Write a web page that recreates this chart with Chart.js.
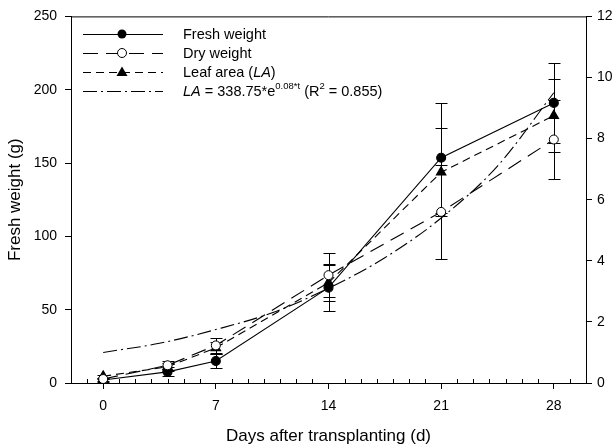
<!DOCTYPE html>
<html>
<head>
<meta charset="utf-8">
<script src="https://cdn.jsdelivr.net/npm/chart.js@4.4.1/dist/chart.umd.min.js"></script>
<style>
  html, body { margin: 0; padding: 0; background: #fff; }
  #wrap { width: 615px; height: 448px; }
</style>
</head>
<body>
<div id="wrap"><canvas id="growthChart"></canvas></div>
<script>
// days after transplanting
const days = [0, 4, 7, 14, 21, 28];
// fresh weight, g (left axis)
const freshWeight = [2, 7.6, 15, 65, 153.6, 191];
const freshErr = [1, 3, 5, 16, 37.5, 27];
// dry weight and leaf area, right axis units
const dryWeight = [0.13, 0.58, 1.23, 3.53, 5.6, 7.97];
const dryErr = [0.05, 0.14, 0.24, 0.72, 1.54, 1.3];
const leafArea = [0.22, 0.53, 1.15, 3.28, 6.9, 8.75];
const leafErr = [0.05, 0.14, 0.19, 0.58, 1.44, 1.2];
// fitted LA curve
const fitDays = [0, 3.5, 7, 10.5, 14, 17.5, 21, 24.5, 28];
const fitValues = [1.0, 1.3, 1.75, 2.3, 3.1, 4.1, 5.4, 7.1, 9.5];

const leftTicks = [0, 50, 100, 150, 200, 250];
const rightTicks = [0, 2, 4, 6, 8, 10, 12];
const xTicks = [0, 7, 14, 21, 28];

const FONT = "'Liberation Sans', Arial, sans-serif";

function pts(xs, ys) {
    return xs.map((x, i) => ({ x: x, y: ys[i] }));
}

const errorBars = {
    id: "errorBars",
    beforeDatasetsDraw(chart) {
        const c = chart.ctx;
        const xs = chart.scales.x;
        const sets = [
            [freshWeight, freshErr, chart.scales.y],
            [dryWeight, dryErr, chart.scales.y1],
            [leafArea, leafErr, chart.scales.y1],
        ];
        c.save();
        c.strokeStyle = "#000";
        c.lineWidth = 1;
        sets.forEach(([vals, errs, ys]) => {
            days.forEach((d, i) => {
                const px = Math.round(xs.getPixelForValue(d)) + 0.5;
                const top = Math.round(ys.getPixelForValue(vals[i] + errs[i])) + 0.5;
                const bot = Math.round(ys.getPixelForValue(vals[i] - errs[i])) + 0.5;
                c.beginPath();
                c.moveTo(px, top); c.lineTo(px, bot);
                c.moveTo(px - 6, top); c.lineTo(px + 6, top);
                c.moveTo(px - 6, bot); c.lineTo(px + 6, bot);
                c.stroke();
            });
        });
        c.restore();
    }
};

const frame = {
    id: "frame",
    afterDraw(chart) {
        const c = chart.ctx;
        const a = chart.chartArea;
        const xs = chart.scales.x;
        c.save();
        c.strokeStyle = "#000";
        c.lineWidth = 1;
        c.beginPath();
        c.moveTo(a.left, a.top + 0.5);
        c.lineTo(a.right, a.top + 0.5);
        // minor day ticks, pointing into the plot
        for (let d = -2; d <= 30; d++) {
            if (d % 7 === 0) continue;
            const px = Math.round(xs.getPixelForValue(d)) + 0.5;
            c.moveTo(px, a.bottom);
            c.lineTo(px, a.bottom - 4);
        }
        c.stroke();
        c.restore();
    }
};

function marker(c, kind, x, y) {
    c.setLineDash([]);
    c.lineWidth = 1;
    c.strokeStyle = "#000";
    if (kind === "filled") {
        c.fillStyle = "#000";
        c.beginPath(); c.arc(x, y, 4.5, 0, Math.PI * 2); c.fill();
    } else if (kind === "open") {
        c.fillStyle = "#fff";
        c.beginPath(); c.arc(x, y, 4.5, 0, Math.PI * 2); c.fill(); c.stroke();
    } else if (kind === "tri") {
        c.fillStyle = "#000";
        c.beginPath();
        c.moveTo(x, y - 5.5); c.lineTo(x + 5.5, y + 4); c.lineTo(x - 5.5, y + 4);
        c.closePath(); c.fill();
    }
}

const legendBox = {
    id: "legendBox",
    afterDraw(chart) {
        const c = chart.ctx;
        const rows = [
            { y: 34, dash: [], mk: "filled", parts: [["Fresh weight", "n"]] },
            { y: 53, dash: [15, 8], mk: "open", parts: [["Dry weight", "n"]] },
            { y: 72, dash: [8, 5], mk: "tri", parts: [["Leaf area (", "n"], ["LA", "i"], [")", "n"]] },
            { y: 91, dash: [14, 4, 2, 4], mk: null,
              parts: [["LA", "i"], [" = 338.75*e", "n"], ["0.08*t", "s"], [" (R", "n"], ["2", "s"], [" = 0.855)", "n"]] },
        ];
        c.save();
        rows.forEach(r => {
            c.strokeStyle = "#000";
            c.lineWidth = 1.1;
            c.setLineDash(r.dash);
            c.beginPath();
            c.moveTo(83, r.y + 0.5); c.lineTo(163, r.y + 0.5);
            c.stroke();
            if (r.mk) marker(c, r.mk, 122, r.y);
            let tx = 183;
            c.fillStyle = "#000";
            c.textBaseline = "middle";
            r.parts.forEach(([t, st]) => {
                if (st === "s") {
                    c.font = "9.5px " + FONT;
                    c.fillText(t, tx, r.y - 5);
                } else {
                    c.font = (st === "i" ? "italic " : "") + "14.5px " + FONT;
                    c.fillText(t, tx, r.y + 1);
                }
                tx += c.measureText(t).width;
            });
        });
        c.restore();
    }
};

const ctx = document.getElementById("growthChart");

new Chart(ctx, {
    type: "scatter",
    data: {
        datasets: [
            {
                label: "LA fit",
                data: pts(fitDays, fitValues),
                yAxisID: "y1",
                showLine: true,
                borderColor: "#000",
                borderWidth: 1.1,
                borderDash: [14, 4, 2, 4],
                pointRadius: 0,
                cubicInterpolationMode: "monotone",
            },
            {
                label: "Dry weight",
                data: pts(days, dryWeight),
                yAxisID: "y1",
                showLine: true,
                borderColor: "#000",
                borderWidth: 1.1,
                borderDash: [15, 8],
                pointStyle: "circle",
                pointRadius: 4.5,
                pointBackgroundColor: "#fff",
                pointBorderColor: "#000",
                pointBorderWidth: 1,
            },
            {
                label: "Leaf area",
                data: pts(days, leafArea),
                yAxisID: "y1",
                showLine: true,
                borderColor: "#000",
                borderWidth: 1.1,
                borderDash: [8, 5],
                pointStyle: "triangle",
                pointRadius: 5.5,
                pointBackgroundColor: "#000",
                pointBorderColor: "#000",
            },
            {
                label: "Fresh weight",
                data: pts(days, freshWeight),
                yAxisID: "y",
                showLine: true,
                borderColor: "#000",
                borderWidth: 1.1,
                pointStyle: "circle",
                pointRadius: 4.5,
                pointBackgroundColor: "#000",
                pointBorderColor: "#000",
            },
        ]
    },
    options: {
        responsive: true,
        maintainAspectRatio: false,
        animation: false,
        layout: { padding: { top: 13, left: 0, right: 0, bottom: 0 } },
        plugins: {
            legend: { display: false },
            tooltip: { enabled: false },
        },
        scales: {
            x: {
                type: "linear",
                min: -2,
                max: 30,
                afterBuildTicks: (s) => { s.ticks = xTicks.map(v => ({ value: v })); },
                afterFit: (s) => { s.height = 65; },
                grid: { drawOnChartArea: false, tickLength: 6, color: "#000" },
                border: { color: "#000", width: 1 },
                ticks: { color: "#000", font: { family: FONT, size: 14 }, padding: 9, maxRotation: 0 },
                title: {
                    display: true,
                    text: "Days after transplanting (d)",
                    color: "#000",
                    font: { family: FONT, size: 17 },
                    padding: { top: 0, bottom: 1 },
                },
            },
            y: {
                position: "left",
                min: 0,
                max: 250,
                afterBuildTicks: (s) => { s.ticks = leftTicks.map(v => ({ value: v })); },
                afterFit: (s) => { s.width = 71; },
                grid: { drawOnChartArea: false, tickLength: 6, color: "#000" },
                border: { color: "#000", width: 1 },
                ticks: { color: "#000", font: { family: FONT, size: 14 }, padding: 8 },
                title: {
                    display: true,
                    text: "Fresh weight (g)",
                    color: "#000",
                    font: { family: FONT, size: 17 },
                    padding: { top: 5, bottom: 0 },
                },
            },
            y1: {
                position: "right",
                min: 0,
                max: 12,
                afterBuildTicks: (s) => { s.ticks = rightTicks.map(v => ({ value: v })); },
                afterFit: (s) => { s.width = 29; },
                grid: { drawOnChartArea: false, tickLength: 6, color: "#000" },
                border: { color: "#000", width: 1 },
                ticks: { color: "#000", font: { family: FONT, size: 14 }, padding: 5 },
            },
        }
    },
    plugins: [errorBars, frame, legendBox]
});
</script>
</body>
</html>
